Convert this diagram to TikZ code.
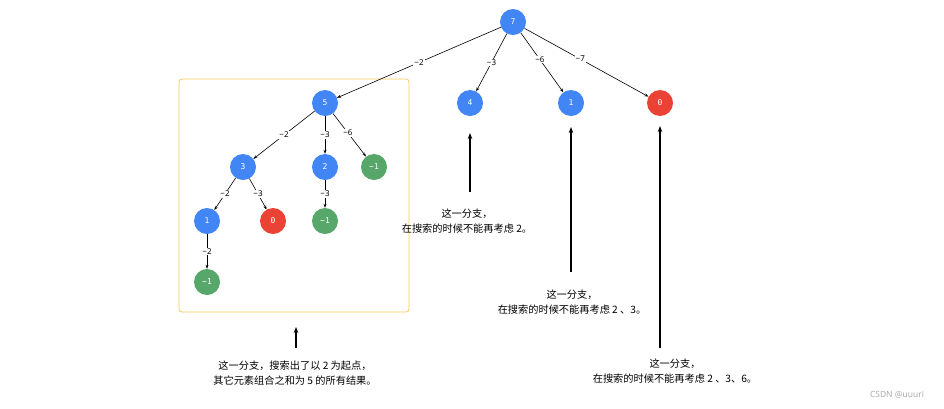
\documentclass[tikz,border=0pt]{standalone}
\usepackage{fontspec}
\setmainfont{Noto Sans CJK SC}
\newfontfamily\numfont{DejaVu Sans Mono}
\newfontfamily\labelfont{Noto Sans}
\usepackage{tikz}
\usetikzlibrary{
  arrows.meta,
  positioning
}
\definecolor{nodeblue}{RGB}{66,133,244}
\definecolor{nodered}{RGB}{234,67,53}
\definecolor{nodegreen}{RGB}{87,166,106}
\definecolor{boxorange}{RGB}{250,200,85}
\tikzset{
  treenode/.style={circle, minimum size=26pt, inner sep=0pt,
    text=white, font=\numfont\fontsize{8}{9}\selectfont},
  bluenode/.style={treenode, fill=nodeblue},
  rednode/.style={treenode, fill=nodered},
  greennode/.style={treenode, fill=nodegreen},
  elabel/.style={fill=white, inner sep=1pt,
    font=\labelfont\fontsize{8}{9}\selectfont},
  arr/.style={-{Stealth[length=4pt, width=3pt]}, line width=0.6pt},
  bigarr/.style={-{Stealth[length=6pt, width=4.5pt]}, line width=1.4pt},
  notetext/.style={align=center, font=\fontsize{10.2}{15}\selectfont},
}

\begin{document}
\begin{tikzpicture}[x=1pt, y=-1pt]
  \useasboundingbox (0,0) rectangle (944,408);

  % branch that starts with 2
  \node[draw=boxorange, rounded corners=3pt, line width=0.8pt,
    minimum width=230pt, minimum height=233pt] (branchbox) at (294,195.5) {};

  % tree
  \node[bluenode] (n7) at (513,22) {7};
  \node[bluenode] (n5) at (325,103) {5};
  \node[bluenode] (n4) at (470,103) {4};
  \node[bluenode] (n1) at (571,103) {1};
  \node[rednode] (n0) at (660,103) {0};
  \node[bluenode] (n53) at (243,167) {3};
  \node[bluenode] (n52) at (325,167) {2};
  \node[greennode] (n5m) at (374,167) {−1};
  \node[bluenode] (n531) at (207,221) {1};
  \node[rednode] (n530) at (273,221) {0};
  \node[greennode] (n52m) at (325,221) {−1};
  \node[greennode] (n531m) at (207,282) {−1};

  \draw[arr] (n7) -- node[elabel] {−2} (n5);
  \draw[arr] (n7) -- node[elabel] {−3} (n4);
  \draw[arr] (n7) -- node[elabel, pos=0.45] {−6} (n1);
  \draw[arr] (n7) -- node[elabel, pos=0.45] {−7} (n0);
  \draw[arr] (n5) -- node[elabel] {−2} (n53);
  \draw[arr] (n5) -- node[elabel] {−3} (n52);
  \draw[arr] (n5) -- node[elabel, pos=0.45] {−6} (n5m);
  \draw[arr] (n53) -- node[elabel] {−2} (n531);
  \draw[arr] (n53) -- node[elabel] {−3} (n530);
  \draw[arr] (n52) -- node[elabel] {−3} (n52m);
  \draw[arr] (n531) -- node[elabel] {−2} (n531m);

  % notes and pointers
  \coordinate (h4) at (470,133);
  \coordinate (t4) at (470,192);
  \coordinate (h1) at (571,127);
  \coordinate (t1) at (571,272);
  \coordinate (h0) at (660,126);
  \coordinate (t0) at (660,348);
  \coordinate (hb) at (296,327);
  \coordinate (tb) at (296,348);
  \draw[bigarr] (t4) -- (h4);
  \draw[bigarr] (t1) -- (h1);
  \draw[bigarr] (t0) -- (h0);
  \draw[bigarr] (tb) -- (hb);

  \node[notetext] (note4) at (467,221.5)
    {这一分支，\\在搜索的时候不能再考虑 2。};
  \node[notetext] (note1) at (572,302.5)
    {这一分支，\\在搜索的时候不能再考虑 2 、3。};
  \node[notetext] (note0) at (675,371)
    {这一分支，\\在搜索的时候不能再考虑 2 、3、6。};
  \node[notetext] (notebox) at (295,373.5)
    {这一分支，搜索出了以 2 为起点，\\其它元素组合之和为 5 的所有结果。};

  \node[font=\labelfont\fontsize{8.5}{10}\selectfont, text=gray!65] (mark) at (897,395) {CSDN @uuuri};
\end{tikzpicture}
\end{document}
